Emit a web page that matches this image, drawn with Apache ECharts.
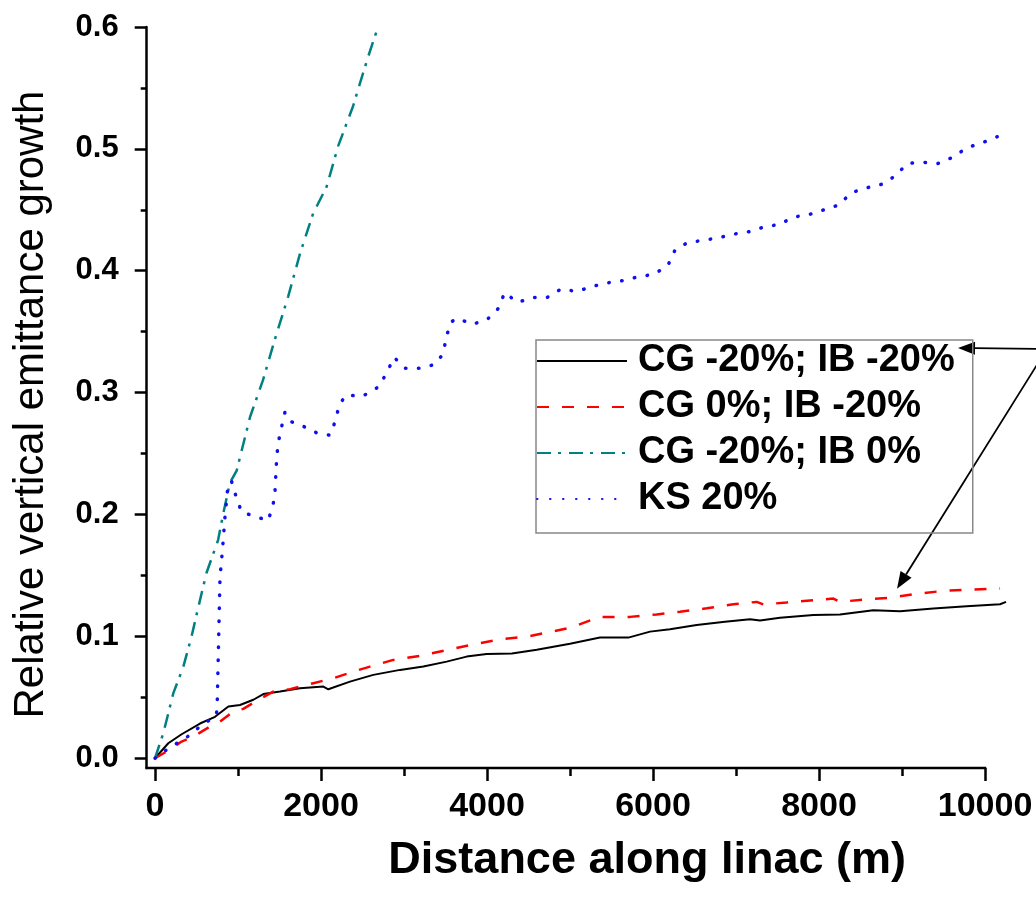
<!DOCTYPE html>
<html>
<head>
	<meta charset="utf-8">
	<title>Relative vertical emittance growth</title>
	<script src="https://cdn.jsdelivr.net/npm/echarts@6/dist/echarts.min.js"></script>
	<style>
		html, body { margin: 0; padding: 0; background: #fff; }
		#chart { width: 1036px; height: 900px; }
	</style>
</head>
<body>
	<div id="chart"></div>
	<script>
		// CG -20%; IB -20%  (solid black)
		var bothDist = [0, 160, 321, 542, 723, 884, 1024, 1185, 1305, 1506, 1747, 2028, 2088, 2349, 2630, 2952, 3233, 3514, 3755, 3996, 4300, 4600, 5000, 5361, 5703, 5964, 6205, 6526, 6867, 7169, 7289, 7530, 7932, 8253, 8654, 8976, 9378, 9779, 10181, 10253];
		var bothGrowth = [0, 0.0123, 0.0197, 0.0285, 0.034, 0.0424, 0.0437, 0.048, 0.0527, 0.0547, 0.0575, 0.0588, 0.0566, 0.0629, 0.0684, 0.0725, 0.0752, 0.0793, 0.0834, 0.0856, 0.086, 0.089, 0.094, 0.099, 0.099, 0.1039, 0.1059, 0.1094, 0.112, 0.114, 0.113, 0.1153, 0.1175, 0.118, 0.1215, 0.1207, 0.1229, 0.1248, 0.1264, 0.1283];

		// CG 0%; IB -20%  (red dashed)
		var ibDist = [0, 141, 321, 462, 663, 763, 944, 1064, 1245, 1425, 1627, 1908, 2149, 2390, 2590, 2871, 3193, 3514, 3795, 4157, 4500, 5000, 5361, 5723, 5740, 6044, 6325, 6647, 6968, 7249, 7329, 7610, 7932, 8173, 8253, 8534, 8855, 9177, 9498, 9819, 10181];
		var ibGrowth = [0, 0.0055, 0.0137, 0.0177, 0.026, 0.029, 0.0383, 0.0405, 0.048, 0.0547, 0.0567, 0.0616, 0.0657, 0.0711, 0.0752, 0.0807, 0.084, 0.0887, 0.0928, 0.0975, 0.1, 0.107, 0.116, 0.116, 0.1149, 0.118, 0.1202, 0.123, 0.1264, 0.1283, 0.1262, 0.1278, 0.1297, 0.131, 0.1283, 0.1302, 0.1316, 0.135, 0.1373, 0.1384, 0.1392];

		// CG -20%; IB 0%  (teal dash-dot)
		var cgDist = [0, 100, 221, 341, 440, 522, 620, 760, 820, 903, 984, 1145, 1300, 1450, 1605, 1747, 1905, 2068, 2205, 2386, 2470, 2570, 2687];
		var cgGrowth = [0, 0.0205, 0.0534, 0.075, 0.0998, 0.124, 0.152, 0.179, 0.2, 0.226, 0.236, 0.28, 0.31, 0.345, 0.379, 0.414, 0.447, 0.469, 0.502, 0.535, 0.554, 0.576, 0.6];

		// KS 20%  (blue dotted)
		var ksDist = [0, 180, 380, 560, 740, 750, 783, 815, 843, 882, 923, 984, 1044, 1225, 1365, 1425, 1446, 1466, 1482, 1526, 1566, 1647, 1767, 1948, 2108, 2169, 2221, 2300, 2500, 2700, 2811, 2880, 3012, 3185, 3366, 3475, 3506, 3566, 3647, 3823, 4002, 4135, 4213, 4369, 4540, 4722, 4892, 5083, 5259, 5449, 5640, 5820, 6006, 6177, 6265, 6412, 6607, 6789, 6970, 7155, 7341, 7522, 7693, 7874, 8059, 8240, 8387, 8572, 8758, 8924, 9061, 9247, 9432, 9608, 9784, 9966, 10147];
		var ksGrowth = [0, 0.009, 0.017, 0.027, 0.035, 0.046, 0.148, 0.173, 0.198, 0.226, 0.227, 0.213, 0.202, 0.198, 0.195, 0.209, 0.22, 0.246, 0.258, 0.272, 0.284, 0.276, 0.273, 0.267, 0.265, 0.276, 0.29, 0.298, 0.297, 0.305, 0.319, 0.329, 0.32, 0.32, 0.323, 0.332, 0.345, 0.358, 0.361, 0.356, 0.36, 0.369, 0.382, 0.374, 0.378, 0.378, 0.385, 0.383, 0.387, 0.39, 0.392, 0.395, 0.397, 0.404, 0.417, 0.423, 0.425, 0.427, 0.43, 0.432, 0.436, 0.438, 0.444, 0.446, 0.45, 0.454, 0.464, 0.468, 0.471, 0.478, 0.488, 0.489, 0.488, 0.493, 0.501, 0.505, 0.51];

		var seriesNames = ['CG -20%; IB -20%', 'CG 0%; IB -20%', 'CG -20%; IB 0%', 'KS 20%'];
		var xTicks = [0, 2000, 4000, 6000, 8000, 10000];
		var xMinorTicks = [1000, 3000, 5000, 7000, 9000];
		var yTicks = [0, 0.1, 0.2, 0.3, 0.4, 0.5, 0.6];
		var yMinorTicks = [0.05, 0.15, 0.25, 0.35, 0.45, 0.55];

		var xMin = -100, xMax = 10260, xAxisEnd = 10000;
		var yMin = -0.008, yMax = 0.6;

		var font = '"Liberation Sans", Arial, sans-serif';

		function pairs(xs, ys) {
			return xs.map(function (x, i) { return [x, ys[i]]; });
		}

		function lineSeries(name, xs, ys, color, width, type, cap) {
			return {
				name: name,
				type: 'line',
				data: pairs(xs, ys),
				symbol: 'none',
				silent: true,
				animation: false,
				lineStyle: { color: color, width: width, type: type, cap: cap || 'butt' },
				itemStyle: { color: color }
			};
		}

		var chart = echarts.init(document.getElementById('chart'));

		var option = {
			backgroundColor: '#fff',
			animation: false,
			grid: {
				left: 146.7,
				right: 29.4,
				top: 27,
				bottom: 132,
				outerBoundsMode: 'none'
			},
			legend: {
				orient: 'vertical',
				left: 536,
				top: 340,
				padding: [1, 18, 14, 0],
				borderColor: '#888',
				borderWidth: 1.5,
				itemWidth: 90,
				itemHeight: 14,
				itemGap: 6,
				itemStyle: { opacity: 0 },
				selectedMode: false,
				textStyle: {
					fontFamily: font,
					fontSize: 38,
					fontWeight: 'bold',
					color: '#000',
					lineHeight: 40,
					padding: [0, 0, 0, 6]
				},
				data: seriesNames
			},
			xAxis: [{
				type: 'value',
				min: xMin,
				max: xMax,
				position: 'bottom',
				name: 'Distance along linac (m)',
				nameLocation: 'middle',
				nameGap: 70,
				nameTextStyle: {
					fontFamily: font,
					fontSize: 45,
					fontWeight: 'bold',
					color: '#000',
					// title sits right of the plot centre in the original
					padding: [0, 0, 0, 141]
				},
				axisLine: { show: false, onZero: false },
				axisTick: { show: true, customValues: xTicks, length: 13, lineStyle: { color: '#000', width: 2.5 } },
				axisLabel: {
					customValues: xTicks,
					margin: 22,
					fontFamily: font,
					fontSize: 34,
					fontWeight: 'bold',
					color: '#000',
					formatter: function (v) { return String(v); }
				},
				splitLine: { show: false }
			}, {
				// minor ticks
				type: 'value',
				min: xMin,
				max: xMax,
				position: 'bottom',
				axisLine: { show: false, onZero: false },
				axisTick: { show: true, customValues: xMinorTicks, length: 8, lineStyle: { color: '#000', width: 2.5 } },
				axisLabel: { show: false },
				splitLine: { show: false }
			}],
			yAxis: [{
				type: 'value',
				min: yMin,
				max: yMax,
				position: 'left',
				name: 'Relative vertical emittance growth',
				nameLocation: 'middle',
				nameGap: 94,
				nameTextStyle: {
					fontFamily: font,
					fontSize: 42,
					color: '#000',
					padding: [0, 14, 0, 0]
				},
				axisLine: { show: true, onZero: false, lineStyle: { color: '#000', width: 2.5 } },
				axisTick: { show: true, customValues: yTicks, length: 12, lineStyle: { color: '#000', width: 2.5 } },
				axisLabel: {
					customValues: yTicks,
					margin: 28,
					fontFamily: font,
					fontSize: 31,
					fontWeight: 'bold',
					color: '#000',
					formatter: function (v) { return v.toFixed(1); }
				},
				splitLine: { show: false }
			}, {
				// minor ticks
				type: 'value',
				min: yMin,
				max: yMax,
				position: 'left',
				axisLine: { show: false, onZero: false },
				axisTick: { show: true, customValues: yMinorTicks, length: 6, lineStyle: { color: '#000', width: 2.5 } },
				axisLabel: { show: false },
				splitLine: { show: false }
			}],
			series: [
				lineSeries(seriesNames[0], bothDist, bothGrowth, '#000000', 2, 'solid'),
				lineSeries(seriesNames[1], ibDist, ibGrowth, '#ff0000', 2.5, [12, 13]),
				lineSeries(seriesNames[2], cgDist, cgGrowth, '#008080', 2.5, [14, 7, 3, 8]),
				lineSeries(seriesNames[3], ksDist, ksGrowth, '#1010ee', 3.5, [0.5, 12.5], 'round')
			]
		};

		chart.setOption(option);

		// annotation arrows (from outside the right edge)
		function arrow(from, to) {
			var dx = to[0] - from[0], dy = to[1] - from[1];
			var len = Math.sqrt(dx * dx + dy * dy);
			var ux = dx / len, uy = dy / len;
			var headL = 17, headW = 6.5;
			var bx = to[0] - ux * headL, by = to[1] - uy * headL;
			return [{
				type: 'line',
				silent: true,
				shape: { x1: from[0], y1: from[1], x2: bx, y2: by },
				style: { stroke: '#000', lineWidth: 1.8 }
			}, {
				type: 'polygon',
				silent: true,
				shape: { points: [to, [bx - uy * headW, by + ux * headW], [bx + uy * headW, by - ux * headW]] },
				style: { fill: '#000' }
			}];
		}

		// x axis line stops at the 10000 tick while the curves run past it
		var axStart = chart.convertToPixel({ gridIndex: 0 }, [xMin, yMin]);
		var axEnd = chart.convertToPixel({ gridIndex: 0 }, [xAxisEnd, yMin]);
		var redTip = chart.convertToPixel({ gridIndex: 0 }, [8940, 0.139]);

		chart.setOption({
			graphic: [{
				type: 'line',
				silent: true,
				shape: { x1: axStart[0] - 1.25, y1: axStart[1], x2: axEnd[0] + 1.25, y2: axEnd[1] },
				style: { stroke: '#000', lineWidth: 2.5 }
			}].concat(arrow([1040, 349], [958, 348]), arrow([1040, 360], redTip))
		});
	</script>
</body>
</html>
